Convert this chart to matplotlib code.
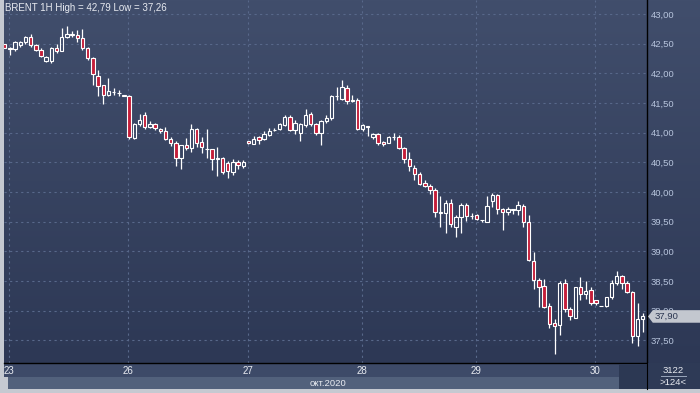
import numpy as np
import matplotlib
matplotlib.use("Agg")
import matplotlib.pyplot as plt
from matplotlib.colors import LinearSegmentedColormap
from matplotlib.patches import Polygon
from matplotlib.transforms import blended_transform_factory

plt.rcParams['font.family'] = ['Liberation Sans', 'DejaVu Sans']

# ── Data: BRENT, 1H bars, 23–30 Oct 2020 ──────────────────────────────────────

opens = [
    42.49, 42.41, 42.41, 42.47, 42.52, 42.61, 42.47, 42.40, 42.20, 42.20,
    42.42, 42.38, 42.62, 42.67, 42.64, 42.59, 42.42, 42.25, 41.96, 41.81,
    41.63, 41.68, 41.66, 41.63, 41.62, 40.91, 41.14, 41.30, 41.09, 41.14,
    41.06, 41.03, 40.89, 40.82, 40.57, 40.79, 40.74, 41.06, 40.84, 40.72,
    40.72, 40.56, 40.57, 40.49, 40.33, 40.50, 40.44, 40.86, 40.81, 40.92,
    40.89, 40.96, 41.04, 41.06, 41.13, 41.26, 41.04, 40.99, 41.13, 41.31,
    41.15, 40.99, 41.19, 41.24, 41.61, 41.56, 41.76, 41.55, 41.55, 41.06,
    41.11, 40.92, 40.97, 40.84, 40.83, 40.93, 40.92, 40.74, 40.55, 40.40,
    40.31, 40.15, 40.10, 40.04, 39.66, 39.65, 39.81, 39.40, 39.58, 39.78,
    39.59, 39.61, 39.52, 39.49, 39.85, 39.95, 39.71, 39.66, 39.70, 39.70,
    39.77, 39.50, 38.83, 38.51, 38.41, 38.08, 37.79, 37.755, 38.47, 38.02,
    37.88, 38.39, 38.28, 38.35, 38.17, 38.07, 38.08, 38.22, 38.46, 38.58,
    38.46, 38.31, 37.57, 37.85,
]
highs = [
    42.50, 42.45, 42.55, 42.55, 42.63, 42.67, 42.50, 42.43, 42.29, 42.44,
    42.49, 42.76, 42.79, 42.71, 42.73, 42.74, 42.45, 42.28, 42.06, 41.81,
    41.92, 41.76, 41.72, 41.63, 41.63, 41.16, 41.31, 41.34, 41.20, 41.17,
    41.07, 41.09, 40.92, 40.85, 40.79, 40.91, 41.14, 41.07, 40.93, 41.06,
    40.73, 40.76, 40.59, 40.52, 40.55, 40.54, 40.54, 40.86, 40.94, 40.94,
    41.02, 41.07, 41.07, 41.17, 41.30, 41.30, 41.21, 41.16, 41.39, 41.34,
    41.17, 41.22, 41.30, 41.63, 41.77, 41.89, 41.81, 41.63, 41.59, 41.14,
    41.11, 41.00, 40.99, 40.85, 40.94, 40.99, 40.96, 40.76, 40.68, 40.46,
    40.34, 40.20, 40.13, 40.06, 39.93, 39.86, 39.88, 39.61, 39.82, 39.82,
    39.64, 39.62, 39.53, 39.93, 39.99, 39.96, 39.73, 39.74, 39.72, 39.85,
    39.80, 39.61, 38.98, 38.55, 38.53, 38.12, 37.86, 38.50, 38.53, 38.06,
    38.40, 38.57, 38.49, 38.40, 38.18, 38.08, 38.23, 38.51, 38.67, 38.60,
    38.49, 38.33, 38.12, 37.96,
]
lows = [
    42.42, 42.31, 42.38, 42.45, 42.50, 42.45, 42.38, 42.27, 42.19, 42.18,
    42.35, 42.37, 42.60, 42.62, 42.53, 42.40, 42.23, 41.80, 41.61, 41.49,
    41.61, 41.63, 41.61, 41.62, 40.89, 40.90, 41.11, 41.06, 41.07, 41.04,
    41.00, 40.88, 40.78, 40.44, 40.38, 40.71, 40.67, 40.76, 40.65, 40.57,
    40.37, 40.26, 40.30, 40.23, 40.29, 40.38, 40.40, 40.80, 40.80, 40.80,
    40.88, 40.94, 41.03, 41.04, 41.11, 41.02, 40.97, 40.86, 41.10, 41.11,
    40.96, 40.79, 41.17, 41.22, 41.55, 41.55, 41.49, 41.52, 41.04, 41.03,
    40.94, 40.90, 40.79, 40.77, 40.82, 40.87, 40.72, 40.49, 40.35, 40.20,
    40.12, 40.09, 39.96, 39.58, 39.40, 39.30, 39.41, 39.24, 39.30, 39.51,
    39.54, 39.53, 39.49, 39.49, 39.74, 39.63, 39.35, 39.61, 39.63, 39.61,
    39.40, 38.84, 38.37, 38.06, 38.04, 37.70, 37.26, 37.59, 37.98, 37.84,
    37.87, 38.17, 38.20, 38.09, 38.10, 38.07, 38.06, 38.20, 38.43, 38.36,
    38.29, 37.46, 37.40, 37.64,
]
closes = [
    42.43, 42.42, 42.53, 42.52, 42.62, 42.47, 42.40, 42.29, 42.27, 42.43,
    42.37, 42.61, 42.67, 42.64, 42.59, 42.42, 42.25, 41.99, 41.78, 41.63,
    41.70, 41.69, 41.67, 41.62, 40.93, 41.14, 41.22, 41.10, 41.14, 41.07,
    41.02, 40.89, 40.82, 40.57, 40.79, 40.74, 41.06, 40.83, 40.75, 40.73,
    40.55, 40.57, 40.34, 40.35, 40.50, 40.45, 40.50, 40.82, 40.90, 40.88,
    40.98, 41.03, 41.05, 41.14, 41.26, 41.04, 41.17, 41.14, 41.30, 41.14,
    40.99, 41.20, 41.25, 41.61, 41.62, 41.77, 41.54, 41.54, 41.06, 41.12,
    41.10, 40.98, 40.82, 40.81, 40.93, 40.92, 40.74, 40.55, 40.43, 40.30,
    40.14, 40.10, 40.04, 39.66, 39.65, 39.81, 39.46, 39.57, 39.78, 39.59,
    39.60, 39.54, 39.53, 39.76, 39.95, 39.71, 39.66, 39.72, 39.71, 39.78,
    39.50, 38.85, 38.52, 38.40, 38.06, 37.78, 37.74, 38.47, 38.02, 37.90,
    38.39, 38.28, 38.33, 38.12, 38.12, 38.08, 38.22, 38.46, 38.59, 38.46,
    38.32, 37.57, 37.85, 37.90,
]

day_labels    = ['23', '26', '27', '28', '29', '30']
day_first_bar = [1, 24, 47, 69, 91, 114]
price_levels  = [37.5, 38.0, 38.5, 39.0, 39.5, 40.0, 40.5, 41.0, 41.5, 42.0, 42.5, 43.0]
month_label   = 'окт.2020'
total_bars    = 3122

# ── Colours ───────────────────────────────────────────────────────────────────

BG_TOP    = '#414e6c'
BG_BOTTOM = '#2d3855'
GRID      = '#58688a'
BEAR      = '#c41e3a'
AXIS_TXT  = '#b7c4dc'
LIGHT_TXT = '#e8ebf1'

W, H = 700, 393
fig = plt.figure(figsize=(W / 100, H / 100), dpi=100, facecolor='#c5c9d1')


def px_axes(x0, y0, x1, y1, **kw):
    """Axes placed by pixel box (top-left origin)."""
    return fig.add_axes([x0 / W, (H - y1) / H, (x1 - x0) / W, (y1 - y0) / H], **kw)


# background gradient behind plot + price scale
bg = px_axes(4, 0, 700, 363)
grad = np.linspace(0, 1, 256).reshape(-1, 1)
bg.imshow(grad, aspect='auto', extent=[0, 1, 0, 1],
          cmap=LinearSegmentedColormap.from_list('bg', [BG_TOP, BG_BOTTOM]))
bg.set_axis_off()

# ── Main candle axes ──────────────────────────────────────────────────────────

ax = px_axes(4, 0, 647, 363)
ax.patch.set_visible(False)
ax.set_xlim(-0.13, 123.83)
ax.set_ylim(37.115, 43.236)

for p in price_levels:
    ax.axhline(p, color=GRID, lw=0.8, ls=(0, (2, 3)), zorder=1)
for b in day_first_bar:
    ax.axvline(b - 0.15, color=GRID, lw=0.8, ls=(0, (2, 3)), zorder=1)

x = np.arange(len(opens))
o = np.array(opens); h = np.array(highs); l = np.array(lows); c = np.array(closes)
top = np.maximum(o, c)
bot = np.minimum(o, c)
body = np.maximum(top - bot, 0.004)
fills = [BEAR if cc < oo else 'none' for oo, cc in zip(o, c)]

ax.vlines(x, top, h, color='white', lw=0.9, zorder=2)
ax.vlines(x, l, bot, color='white', lw=0.9, zorder=2)
ax.bar(x, body, bottom=bot, width=0.66, color=fills, edgecolor='white',
       linewidth=0.8, zorder=3)

ax.yaxis.tick_right()
ax.set_yticks(price_levels)
ax.set_yticklabels([f"{p:.2f}".replace('.', ',') for p in price_levels])
ax.tick_params(axis='y', length=0, pad=2.5, labelsize=6.8, labelcolor=AXIS_TXT)
ax.set_xticks([])
for side in ['top', 'left', 'bottom']:
    ax.spines[side].set_visible(False)
ax.spines['right'].set_color('black')
ax.spines['right'].set_linewidth(1.0)

# last-price marker on the scale (covers the 38,00 label, as in the terminal)
last = closes[-1]
tr = blended_transform_factory(ax.transAxes, ax.transData)
hh = 0.106
ax.add_patch(Polygon([(1.0016, last), (1.009, last + hh), (1.09, last + hh),
                      (1.09, last - hh), (1.009, last - hh)],
                     closed=True, transform=tr, clip_on=False,
                     facecolor='#c3c7cf', edgecolor='none', zorder=10))
ax.text(1.0113, last, f"{last:.2f}".replace('.', ','), transform=tr,
        ha='left', va='center', fontsize=6.8, color='#2b3651',
        clip_on=False, zorder=11)

title = f"BRENT 1H High = {max(highs):.2f} Low = {min(lows):.2f}".replace('.', ',')
fig.text(5 / W, 1 - 8 / H, title, ha='left', va='center',
         fontsize=7, color=LIGHT_TXT)

# ── Time axis strip ───────────────────────────────────────────────────────────

axx = px_axes(4, 363, 647, 377, facecolor='#3d4a68')
axx.set_xlim(ax.get_xlim())
axx.set_ylim(0, 1)
axx.set_xticks([]); axx.set_yticks([])
for side in ['left', 'right', 'bottom']:
    axx.spines[side].set_visible(False)
axx.spines['top'].set_color('black')
axx.spines['top'].set_linewidth(1.0)
for lab, b in zip(day_labels, day_first_bar):
    axx.text(b - 0.15, 0.45, lab, ha='center', va='center',
             fontsize=7, color=LIGHT_TXT)

# month bar + scroll block
axm = px_axes(8, 377, 619, 389, facecolor='#52617c')
axm.set_xticks([]); axm.set_yticks([])
for s in axm.spines.values():
    s.set_visible(False)
axm.text((328 - 8) / 611, 0.5, month_label, ha='center', va='center',
         fontsize=6.8, color=LIGHT_TXT, transform=axm.transAxes)

axs = px_axes(619, 363.5, 647, 389, facecolor='#2c3853')
axs.set_xticks([]); axs.set_yticks([])
for s in axs.spines.values():
    s.set_visible(False)

# bottom-right info block
axi = px_axes(647, 363, 700, 389, facecolor='#2e3a56')
axi.set_xlim(0, 1); axi.set_ylim(0, 1)
axi.set_xticks([]); axi.set_yticks([])
for s in axi.spines.values():
    s.set_visible(False)
axi.spines['left'].set_visible(True)
axi.spines['left'].set_color('black')
axi.text(0.5, 0.73, str(total_bars), ha='center', va='center',
         fontsize=6.8, color=LIGHT_TXT)
axi.plot([0.26, 0.74], [0.5, 0.5], color='#9aa6bc', lw=0.7)
axi.text(0.5, 0.25, f">{len(opens)}<", ha='center', va='center',
         fontsize=6.8, color=LIGHT_TXT)

fig.savefig('out.png', dpi=100, facecolor=fig.get_facecolor())
